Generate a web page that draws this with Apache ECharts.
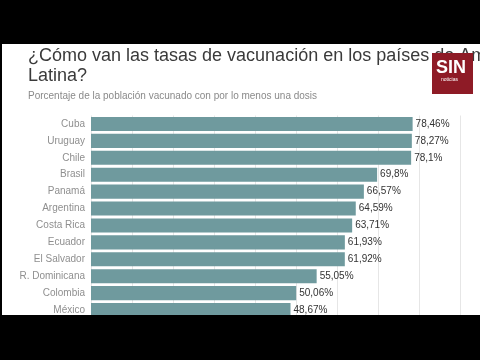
<!DOCTYPE html>
<html><head><meta charset="utf-8">
<script src="https://cdn.jsdelivr.net/npm/echarts@6/dist/echarts.min.js"></script>
<style>html,body{margin:0;padding:0;background:#000}#c{width:480px;height:360px}</style>
</head><body><div id="c"></div>
<script>
const categories = ["Cuba","Uruguay","Chile","Brasil","Panamá","Argentina","Costa Rica","Ecuador","El Salvador","R. Dominicana","Colombia","México"];
const values = [78.46,78.27,78.1,69.8,66.57,64.59,63.71,61.93,61.92,55.05,50.06,48.67];
const valueLabels = ["78,46%","78,27%","78,1%","69,8%","66,57%","64,59%","63,71%","61,93%","61,92%","55,05%","50,06%","48,67%"];
const titleText = "¿Cómo van las tasas de vacunación en los países de América\nLatina?";
const subtitleText = "Porcentaje de la población vacunado con por lo menos una dosis";

const chart = echarts.init(document.getElementById('c'), null, {renderer:'canvas'});
chart.setOption({
  backgroundColor: '#000',
  animation: false,
  grid: {left: 91, top: 115.5, height: 203, right: 0, containLabel: false},
  xAxis: {type:'value', min:0, max:94.9, interval:10,
    axisLabel:{show:false}, axisLine:{show:false}, axisTick:{show:false},
    splitLine:{show:true, lineStyle:{color:'#e6e6e6', width:1}}},
  yAxis: {type:'category', data:categories, inverse:true,
    axisLine:{show:false}, axisTick:{show:false},
    axisLabel:{color:'#8f8f8f', fontSize:10, margin:6, fontFamily:'Liberation Sans, Arial, sans-serif'}},
  series: [{type:'bar', data:values, barCategoryGap:'17%', z:3,
    itemStyle:{color:'#6f9a9e'},
    label:{show:true, position:'right', distance:3, color:'#333', fontSize:10,
      fontFamily:'Liberation Sans, Arial, sans-serif',
      formatter: p => valueLabels[p.dataIndex]}}],
  graphic: [
    {type:'rect', z:-10, silent:true, shape:{x:2,y:44,width:478,height:271}, style:{fill:'#fff'}},
    {type:'text', z:10, left:28, top:46, style:{text:titleText, fill:'#3a3a3a', fontSize:18, lineHeight:20,
      fontFamily:'Liberation Sans, Arial, sans-serif'}},
    {type:'text', z:10, left:28, top:91, style:{text:subtitleText, fill:'#8a8a8a', fontSize:10,
      fontFamily:'Liberation Sans, Arial, sans-serif'}},
    {type:'rect', z:20, shape:{x:432,y:53,width:41,height:41}, style:{fill:'#8e1b26'}},
    {type:'text', z:21, left:436, top:59, style:{text:'SIN', fill:'#fff', fontSize:18, fontWeight:'bold',
      fontFamily:'Liberation Sans, sans-serif'}},
    {type:'text', z:21, left:441, top:77, style:{text:'noticias', fill:'#fff', fontSize:5,
      fontFamily:'Liberation Sans, sans-serif'}},
    {type:'rect', z:30, shape:{x:0,y:315,width:480,height:45}, style:{fill:'#000'}},
    {type:'rect', z:30, shape:{x:0,y:0,width:480,height:44}, style:{fill:'#000'}}
  ]
});
</script></body></html>
